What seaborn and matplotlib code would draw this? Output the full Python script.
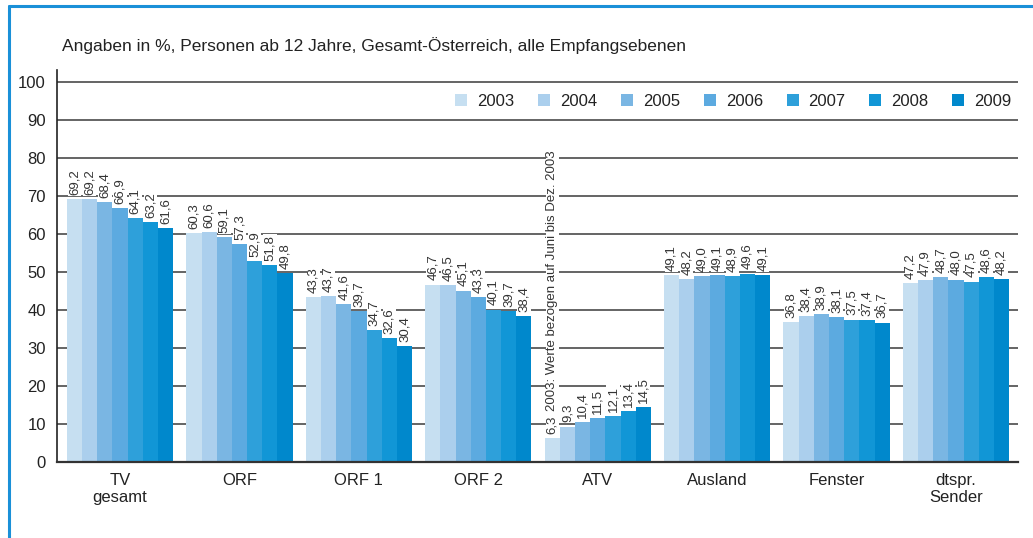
import pandas as pd
import numpy as np
import matplotlib.pyplot as plt
import seaborn as sns
from matplotlib.lines import Line2D

sns.set_style("white")
plt.rcParams['font.family'] = ['Liberation Sans', 'DejaVu Sans']

sender = ['TV\ngesamt', 'ORF', 'ORF 1', 'ORF 2', 'ATV', 'Ausland', 'Fenster', 'dtspr.\nSender']
jahre = ['2003', '2004', '2005', '2006', '2007', '2008', '2009']
tv_gesamt = [69.2, 69.2, 68.4, 66.9, 64.1, 63.2, 61.6]
orf = [60.3, 60.6, 59.1, 57.3, 52.9, 51.8, 49.8]
orf1 = [43.3, 43.7, 41.6, 39.7, 34.7, 32.6, 30.4]
orf2 = [46.7, 46.5, 45.1, 43.3, 40.1, 39.7, 38.4]
atv = [6.3, 9.3, 10.4, 11.5, 12.1, 13.4, 14.5]
ausland = [49.1, 48.2, 49.0, 49.1, 48.9, 49.6, 49.1]
fenster = [36.8, 38.4, 38.9, 38.1, 37.5, 37.4, 36.7]
dtspr = [47.2, 47.9, 48.7, 48.0, 47.5, 48.6, 48.2]
farben = ['#c6dff1', '#abcfed', '#7ab6e3', '#5caae0', '#2ea0da', '#1196d6', '#0088cc']
hinweis = '2003: Werte bezogen auf Juni bis Dez. 2003'

werte = [tv_gesamt, orf, orf1, orf2, atv, ausland, fenster, dtspr]
rows = []
for s, vals in zip(sender, werte):
    for j, v in zip(jahre, vals):
        rows.append({'Sender': s, 'Jahr': j, 'Wert': v})
df = pd.DataFrame(rows)

fig = plt.figure(figsize=(10.33, 5.38), dpi=100)
ax = fig.add_axes([0.0552, 0.1413, 0.9303, 0.7287])

sns.barplot(data=df, x='Sender', y='Wert', hue='Jahr', palette=farben,
            width=0.89, saturation=1, gap=0, linewidth=0, ax=ax)
# Balken ueber den weissen Textflaechen, aber unter den Zahlen
for p in ax.patches:
    p.set_zorder(4.5)

ax.set_ylim(0, 103.2)
ax.set_xlim(-0.528, 7.519)
ax.set_yticks(range(0, 101, 10))
ax.yaxis.grid(True, color='#4a4a4a', linewidth=1.2, zorder=0)
ax.set_axisbelow(True)
for sp in ['top', 'right']:
    ax.spines[sp].set_visible(False)
ax.spines['left'].set_color('#222222')
ax.spines['bottom'].set_color('#333333')
ax.spines['left'].set_linewidth(1.2)
ax.spines['bottom'].set_linewidth(1.6)
ax.spines['bottom'].set_zorder(6)
ax.set_xlabel('')
ax.set_ylabel('')
ax.tick_params(axis='y', labelsize=12, length=0, pad=8, colors='#222222')
ax.tick_params(axis='x', labelsize=12, length=0, pad=8, colors='#222222')

bar0 = ax.containers[0][4]
hx = bar0.get_x() + bar0.get_width() / 2

# erst weisse Flaechen (unterbrechen die Gitterlinien), dann die Texte darueber
for durchgang in [0, 1]:
    farbe = 'none' if durchgang == 0 else '#333333'
    box = dict(fc='white', ec='none', pad=0.5) if durchgang == 0 else None
    for cont in ax.containers:
        labels = [f"{v:.1f}".replace('.', ',') for v in cont.datavalues]
        ax.bar_label(cont, labels=labels, rotation=90, padding=3, fontsize=9.5,
                     color=farbe, bbox=box, zorder=4 + durchgang)
    ax.text(hx, 13.4, hinweis, rotation=90, ha='center', va='bottom',
            fontsize=9.5, color=farbe, bbox=box, zorder=4 + durchgang)

handles, lbls = ax.get_legend_handles_labels()
leg = ax.legend(handles, lbls, ncol=7, frameon=False, loc='center right',
                bbox_to_anchor=(1.0, 95.0), bbox_transform=ax.get_yaxis_transform(),
                fontsize=12, handlelength=0.72, handleheight=0.72,
                handletextpad=0.6, columnspacing=1.42, borderaxespad=0)
for t in leg.get_texts():
    t.set_color('#222222')

fig.text(0.060, 0.915, 'Angaben in %, Personen ab 12 Jahre, Gesamt-Österreich, alle Empfangsebenen',
         fontsize=12.5, color='#222222', va='center')

# blauer Rahmen
fig.add_artist(Line2D([0.0087, 1.0], [0.989, 0.989], transform=fig.transFigure,
                      color='#1a90d8', linewidth=2.2))
fig.add_artist(Line2D([0.0087, 0.0087], [0.0, 0.989], transform=fig.transFigure,
                      color='#1a90d8', linewidth=2.2))

fig.savefig('out.png', dpi=100)
